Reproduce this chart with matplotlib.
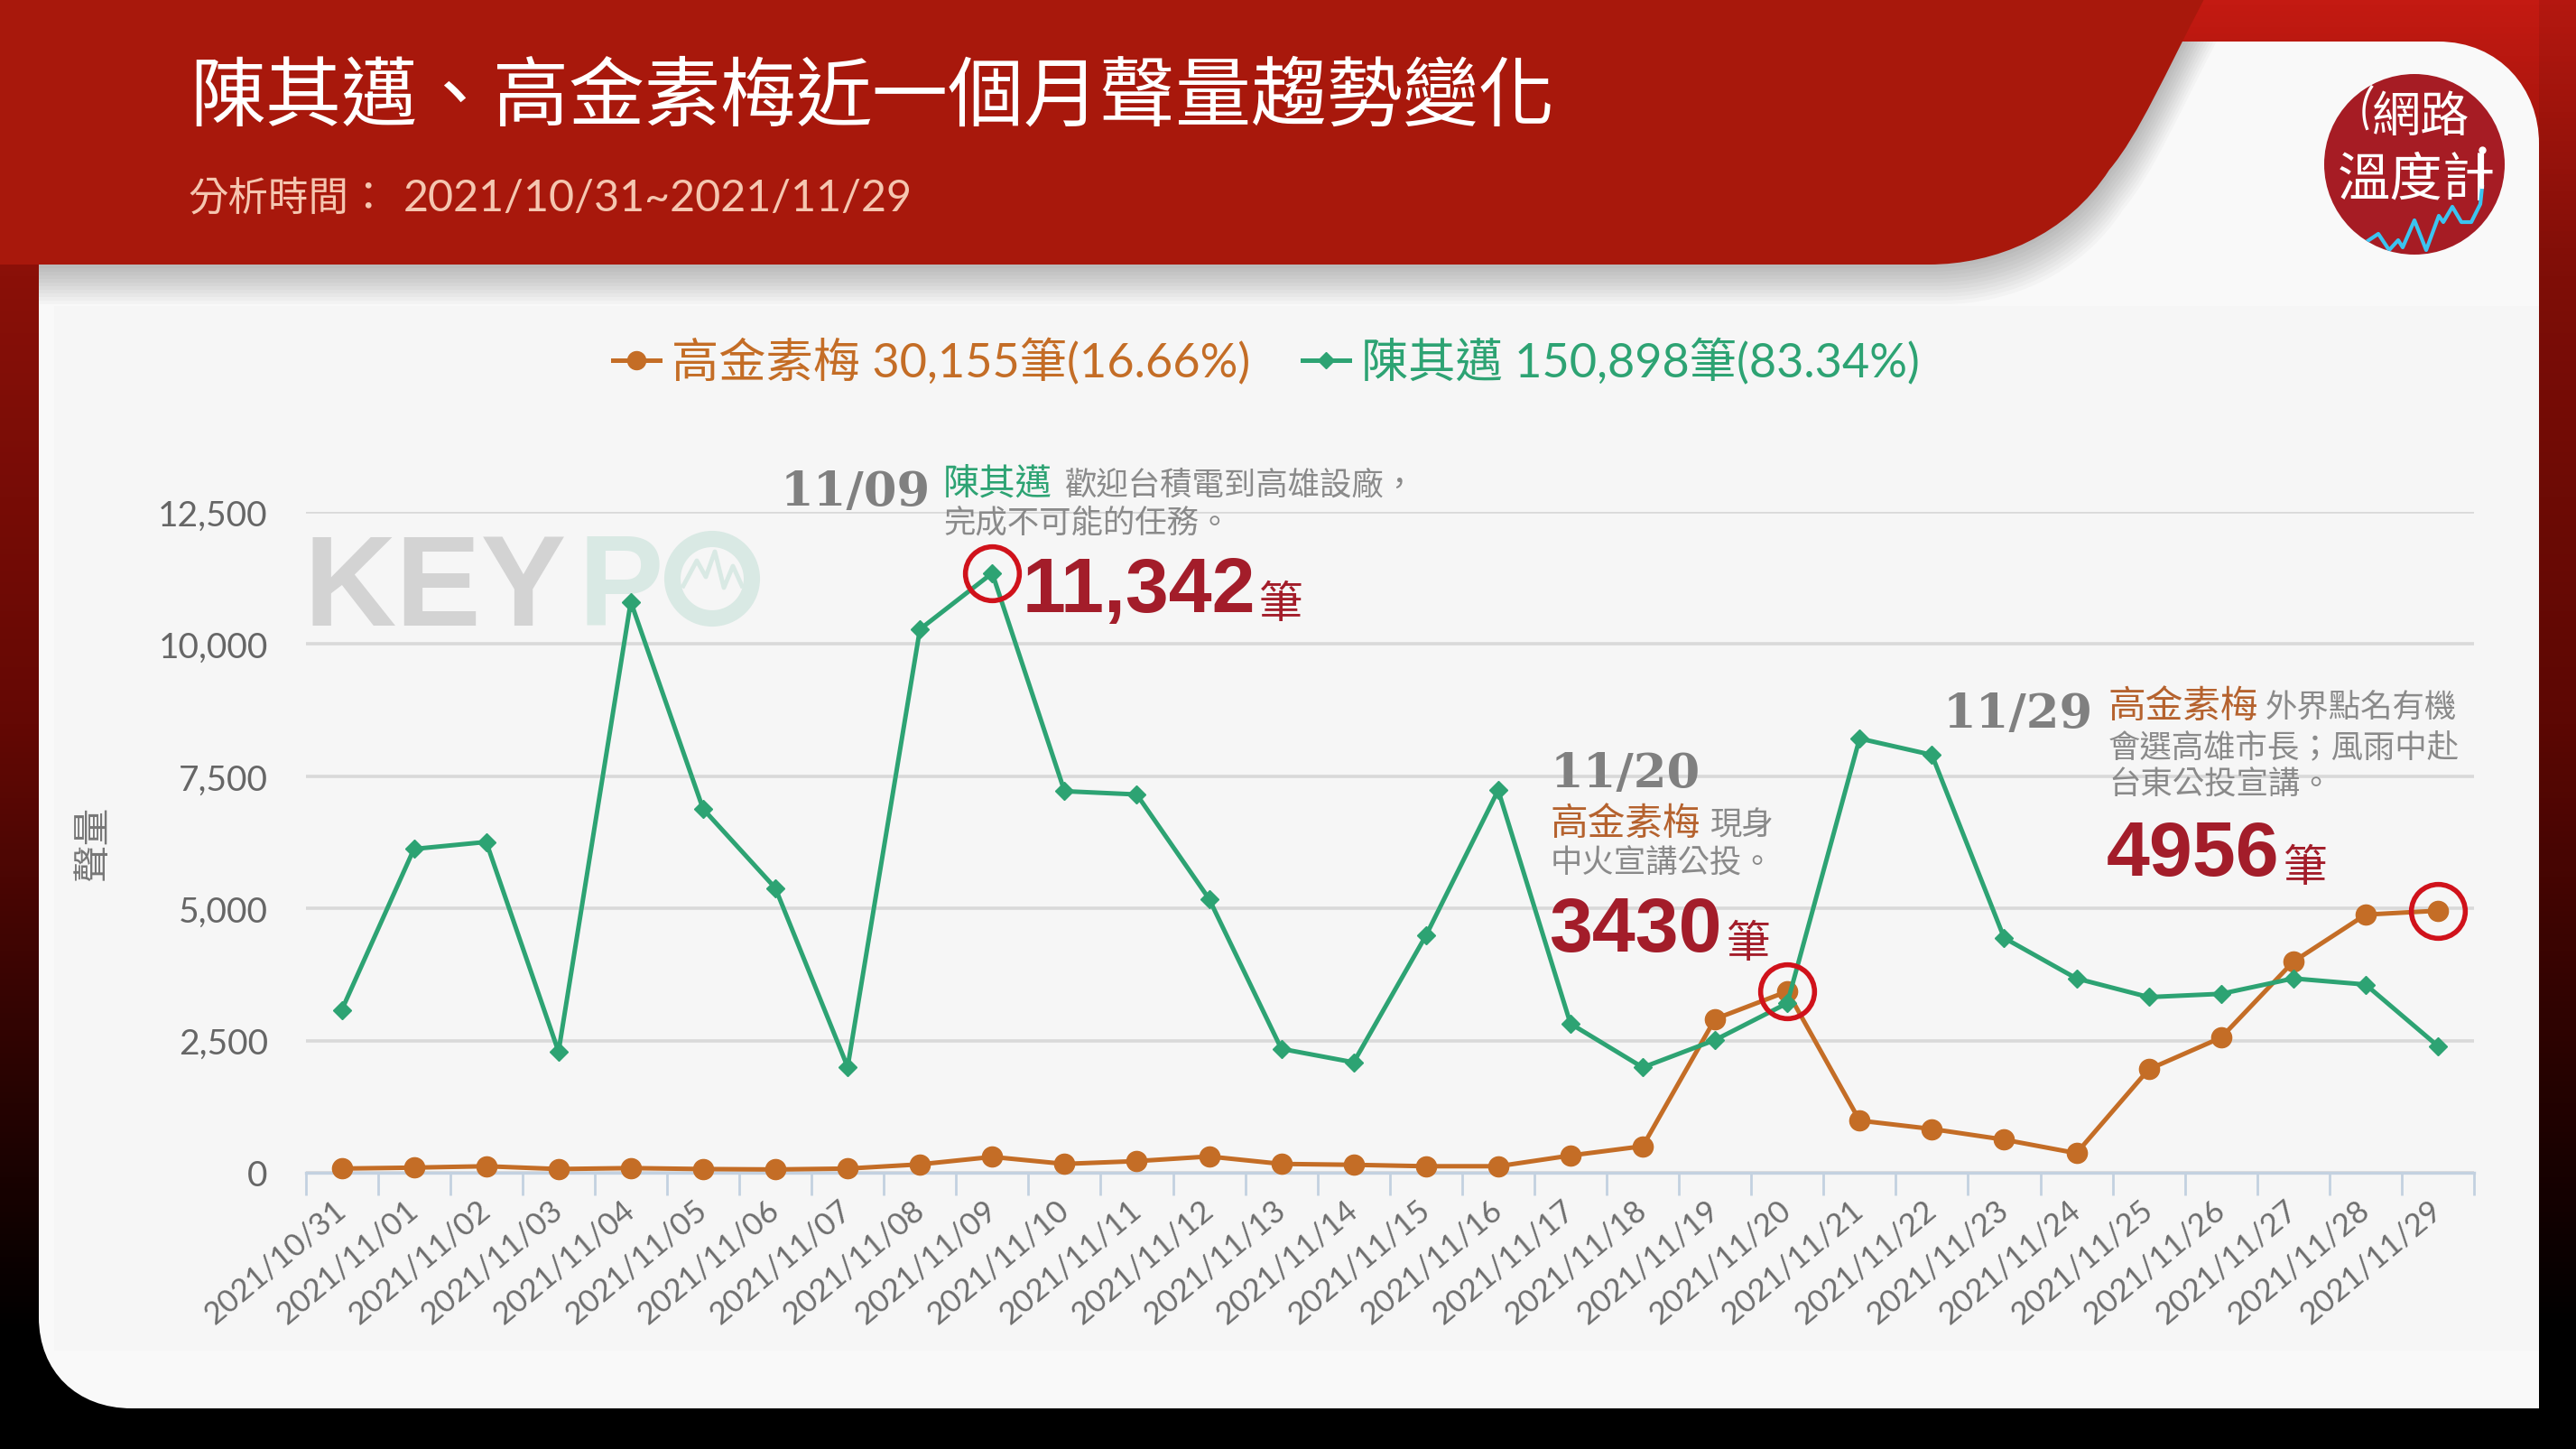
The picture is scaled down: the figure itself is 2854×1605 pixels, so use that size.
import numpy as np
import matplotlib
matplotlib.use('Agg')
import matplotlib.pyplot as plt
from matplotlib.patches import Circle, PathPatch, Rectangle
from matplotlib.path import Path
from matplotlib.colors import LinearSegmentedColormap
from matplotlib.font_manager import FontProperties

W, H = 2854, 1606

CJK = ['Noto Sans CJK TC', 'DejaVu Sans']
LATIN = ['Lato', 'Noto Sans CJK TC']
plt.rcParams['font.family'] = CJK

# data
dates = ['2021/10/31', '2021/11/01', '2021/11/02', '2021/11/03', '2021/11/04', '2021/11/05',
         '2021/11/06', '2021/11/07', '2021/11/08', '2021/11/09', '2021/11/10', '2021/11/11',
         '2021/11/12', '2021/11/13', '2021/11/14', '2021/11/15', '2021/11/16', '2021/11/17',
         '2021/11/18', '2021/11/19', '2021/11/20', '2021/11/21', '2021/11/22', '2021/11/23',
         '2021/11/24', '2021/11/25', '2021/11/26', '2021/11/27', '2021/11/28', '2021/11/29']
chen = [3075, 6124, 6257, 2291, 10800, 6882, 5384, 2000, 10280, 11342,
        7217, 7155, 5181, 2344, 2088, 4485, 7235, 2820, 1992, 2511,
        3208, 8213, 7904, 4441, 3675, 3322, 3384, 3675, 3560, 2397]
kao = [79, 97, 123, 70, 88, 70, 62, 79, 159, 300,
       167, 220, 308, 167, 150, 123, 123, 326, 502, 2908,
       3430, 987, 828, 626, 370, 1956, 2555, 3992, 4882, 4956]
yticks = [0, 2500, 5000, 7500, 10000, 12500]
ytick_labels = ['0', '2,500', '5,000', '7,500', '10,000', '12,500']
chen_label = '陳其邁 150,898筆(83.34%)'
kao_label = '高金素梅 30,155筆(16.66%)'
peak_chen = [9]    # 11/09
peak_kao = [20, 29]    # 11/20, 11/29

GREEN = '#2DA373'
ORANGE = '#C46D26'
NAME_ORANGE = '#B5622E'
RED = '#A31D2A'
NOTE = '#8A8A8A'
DATE = '#808080'

fig = plt.figure(figsize=(W / 100, H / 100), dpi=100)

# background layer, in pixel coords
bg = fig.add_axes([0, 0, 1, 1], zorder=0)
bg.set_xlim(0, W)
bg.set_ylim(H, 0)
bg.axis('off')

cmap = LinearSegmentedColormap.from_list('bg', [(0, '#C41A12'), (0.19, '#8A1008'), (0.5, '#640804'),
                                                (0.92, '#000000'), (1, '#000000')])
bg.imshow(np.linspace(0, 1, 256).reshape(-1, 1), cmap=cmap, extent=[0, W, H, 0], aspect='auto', zorder=0)
bg.add_patch(Rectangle((2813, 0), 41, H, color='black', alpha=0.08, lw=0, zorder=1))

# card
card = Path([(43, 47), (2701, 47), (2770, 47), (2813, 100), (2813, 160), (2813, 1561), (146, 1561),
             (85, 1561), (43, 1520), (43, 1460), (43, 47)],
            [Path.MOVETO, Path.LINETO, Path.CURVE4, Path.CURVE4, Path.CURVE4, Path.LINETO, Path.LINETO,
             Path.CURVE4, Path.CURVE4, Path.CURVE4, Path.CLOSEPOLY])
card_patch = PathPatch(card, facecolor='#F9F9F9', edgecolor='none', zorder=2)
bg.add_patch(card_patch)
bg.add_patch(Rectangle((60, 340), 2753, 1157, color='#F6F6F6', lw=0, zorder=2))

# red header band, with a soft shadow underneath
band = [(0, 0), (2442, 0), (2400, 80), (2370, 150), (2337, 189), (2290, 262), (2210, 294), (2137, 294), (0, 294), (0, 0)]
band_codes = [Path.MOVETO, Path.LINETO, Path.CURVE4, Path.CURVE4, Path.CURVE4, Path.CURVE4, Path.CURVE4, Path.CURVE4,
              Path.LINETO, Path.CLOSEPOLY]
for off in range(44, 0, -4):
    shifted = Path([(x + off * 0.35, y + off) for x, y in band], band_codes)
    shadow = PathPatch(shifted, facecolor='black', edgecolor='none', alpha=0.022, zorder=3)
    bg.add_patch(shadow)
    shadow.set_clip_path(card_patch)
bg.add_patch(PathPatch(Path(band, band_codes), facecolor='#A8180C', edgecolor='none', zorder=4))

# KEYPO watermark
bg.text(336, 693, 'KEY', family='Liberation Sans', weight='bold', fontsize=102, color='#D3D3D3', va='baseline', zorder=3)
bg.text(640, 693, 'P', family='Liberation Sans', weight='bold', fontsize=102, color='#D9E9E4', va='baseline', zorder=3)
bg.add_patch(Circle((789, 642), 44, facecolor='none', edgecolor='#D9E9E4', lw=13, zorder=3))
wm_x = [757, 772, 782, 792, 802, 812, 822]
wm_y = [650, 622, 640, 612, 652, 628, 650]
bg.plot(wm_x, wm_y, color='#D9E9E4', lw=3.5, zorder=3)

# logo
logo = Circle((2675, 183), 100, facecolor='#A61C24', edgecolor='none', zorder=3)
bg.add_patch(logo)
bg.text(2682, 131, '網路', color='white', fontsize=39, ha='center', va='center', zorder=5)
bg.text(2677, 200, '溫度計', color='white', fontsize=42, ha='center', va='center', zorder=5)
pulse_x = [2623, 2635, 2647, 2657, 2662, 2675, 2688, 2702, 2707, 2717, 2727, 2738, 2748, 2750]
pulse_y = [268, 260, 278, 267, 275, 245, 278, 240, 247, 230, 247, 247, 227, 208]
pulse = bg.plot(pulse_x, pulse_y, color='#3BC4F0', lw=3, zorder=5)[0]
pulse.set_clip_path(logo)
bg.plot([2750, 2750], [167, 208], color='white', lw=3, zorder=5)
bg.plot([2750], [167], 'o', color='white', ms=5, zorder=5)
t = np.radians(np.linspace(140, 205, 20))
bg.plot(2655 + 36 * np.cos(t), 125 - 36 * np.sin(t) * 1.2, color='white', lw=2.4, zorder=5)

# header text
bg.text(210, 108, '陳其邁、高金素梅近一個月聲量趨勢變化', color='white', fontsize=60.5, va='center', zorder=5)
bg.text(208, 220, '分析時間：', color='#F5C6B0', fontsize=32, va='center', zorder=5)
bg.text(447, 220, '2021/10/31~2021/11/29', family=LATIN, color='#F5C6B0', fontsize=34.8, va='center', zorder=5)

# chart
ax_l, ax_r, ax_t, ax_b = 338.5, 2741, 568, 1300
ax = fig.add_axes([ax_l / W, 1 - ax_b / H, (ax_r - ax_l) / W, (ax_b - ax_t) / H], zorder=1)
ax.patch.set_alpha(0)
x = np.arange(len(dates))
ax.plot(x, kao, color=ORANGE, lw=3.6, marker='o', ms=16, clip_on=False, zorder=3, label=kao_label)
ax.plot(x, chen, color=GREEN, lw=3.6, marker='D', ms=10, clip_on=False, zorder=4, label=chen_label)
ax.plot(x[peak_chen], np.array(chen)[peak_chen], 'o', ms=43, mfc='none', mec='#D0121B', mew=4, clip_on=False, zorder=5)
ax.plot(x[peak_kao], np.array(kao)[peak_kao], 'o', ms=43, mfc='none', mec='#D0121B', mew=4, clip_on=False, zorder=5)

ax.set_xlim(-0.5, len(dates) - 0.5)
ax.set_ylim(0, 12500)
ax.set_yticks(yticks)
ax.set_yticklabels(ytick_labels, family=LATIN, fontsize=28, color='#666666')
ax.set_xticks(x)
ax.set_xticklabels(dates, family=LATIN, rotation=40, ha='right', va='center', rotation_mode='anchor', fontsize=25, color='#6E6E6E')
ax.set_xticks(np.arange(len(dates) + 1) - 0.5, minor=True)
ax.tick_params(axis='x', which='major', length=0, pad=26)
ax.tick_params(axis='x', which='minor', length=18, width=2, color='#C3D1E0')
ax.tick_params(axis='y', length=0, pad=30)
ax.grid(axis='y', color='#D9D9D9', lw=2.6)
ax.set_axisbelow(True)
for name in ('top', 'right', 'left'):
    ax.spines[name].set_visible(False)
ax.spines['bottom'].set_color('#C3D1E0')
ax.spines['bottom'].set_linewidth(2.4)
ax.set_ylabel('聲量', fontsize=30, color='#777777')
ax.yaxis.set_label_coords(124, 934, transform=bg.transData)

handles, labels = ax.get_legend_handles_labels()
leg = ax.legend(handles, labels, loc='center', bbox_to_anchor=(1403 / W, 1 - 401 / H), bbox_transform=fig.transFigure,
                ncol=2, frameon=False, labelcolor='linecolor', prop=FontProperties(family=LATIN, size=37.6),
                handlelength=1.0, handletextpad=0.25, columnspacing=1.1, markerscale=0.9)


def note(px, py, s, **kw):
    kw.setdefault('va', 'center')
    kw.setdefault('zorder', 6)
    ax.text(px, py, s, transform=bg.transData, clip_on=False, **kw)


def count(px, py, num, unit_x):
    note(px, py, num, family='Liberation Sans', weight='bold', fontsize=62, color=RED, va='baseline')
    note(unit_x, py + 6, '筆', fontsize=35, color=RED, va='baseline')


serif = dict(family='DejaVu Serif', weight='bold', fontsize=38, color=DATE, va='baseline')
body = dict(fontsize=25.5, color=NOTE)

# 11/09
note(865, 560, '11/09', **serif)
note(1045, 536, '陳其邁', fontsize=29, color=GREEN, weight='medium')
note(1180, 538, '歡迎台積電到高雄設廠，', **body)
note(1045, 580, '完成不可能的任務。', **body)
count(1133, 678, '11,342', 1395)

# 11/20
note(1718, 872, '11/20', **serif)
note(1718, 913, '高金素梅', fontsize=30, color=NAME_ORANGE, weight='medium')
note(1895, 915, '現身', **body)
note(1718, 957, '中火宣講公投。', **body)
count(1716, 1054, '3430', 1913)

# 11/29
note(2153, 806, '11/29', **serif)
note(2336, 783, '高金素梅', fontsize=30, color=NAME_ORANGE, weight='medium')
note(2510, 785, '外界點名有機', **body)
note(2336, 828, '會選高雄市長；風雨中赴', **body)
note(2336, 870, '台東公投宣講。', **body)
count(2334, 970, '4956', 2530)

fig.savefig('out.png', dpi=100)
